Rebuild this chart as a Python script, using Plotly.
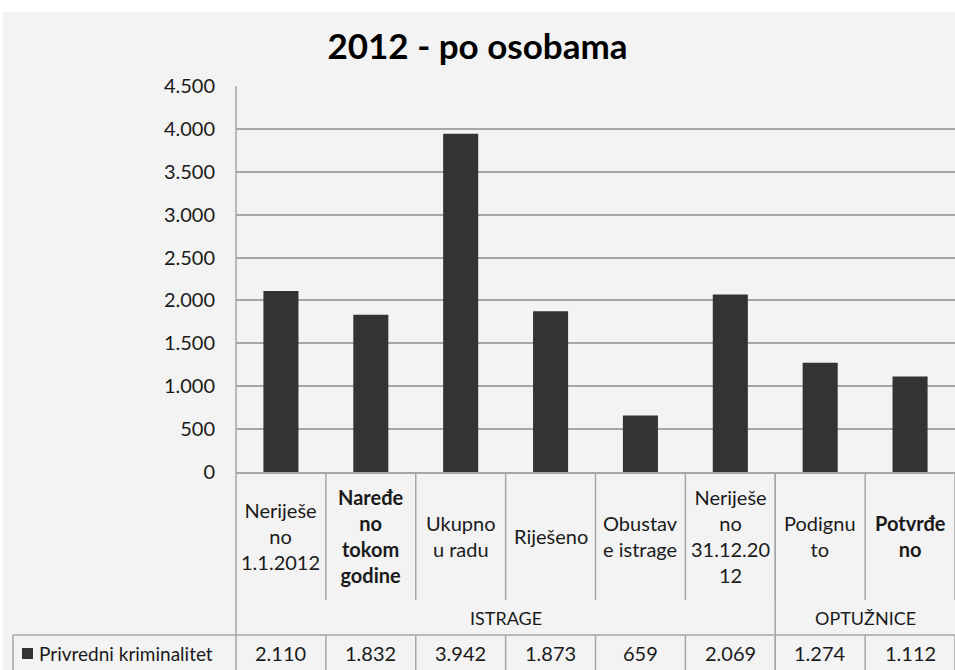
import plotly.graph_objects as go

# ---- data ----
title_text = "2012 - po osobama"
categories = ["Neriješeno 1.1.2012", "Naređeno tokom godine", "Ukupno u radu", "Riješeno",
              "Obustave istrage", "Neriješeno 31.12.2012", "Podignuto", "Potvrđeno"]
cat_labels = ["Neriješe<br>no<br>1.1.2012", "<b>Naređe<br>no<br>tokom<br>godine</b>", "Ukupno<br>u radu",
              "Riješeno", "Obustav<br>e istrage", "Neriješe<br>no<br>31.12.20<br>12", "Podignu<br>to",
              "<b>Potvrđe<br>no</b>"]
values = [2110, 1832, 3942, 1873, 659, 2069, 1274, 1112]
series_name = "Privredni kriminalitet"
groups = ["ISTRAGE", "OPTUŽNICE"]
group_first = [0, 6]
group_last = [5, 7]
y_ticks = [0, 500, 1000, 1500, 2000, 2500, 3000, 3500, 4000, 4500]

# ---- layout constants (pixels) ----
W, H = 955, 670
ML, MR, MT, MB = 236, 0, 86, 198
PW, PH = W - ML - MR, H - MT - MB
BG = "#f3f3f3"
LINE = "#a6a6a6"
TXT = "#1a1a1a"
FONT = "Lato, Carlito, Calibri, sans-serif"


def py(p):  # pixel y -> paper y
    return (H - MB - p) / PH


def px(p):  # pixel x -> paper x
    return (p - ML) / PW


fig = go.Figure()
fig.add_trace(go.Bar(x=categories, y=values, name=series_name,
                     marker=dict(color="#333333", line=dict(width=0))))

shapes = []
# background (white strip at top/left, gray panel)
shapes.append(dict(type="rect", xref="paper", yref="paper", x0=px(3), x1=px(W),
                   y0=py(12), y1=py(H), fillcolor=BG, line=dict(width=0), layer="below"))
# left axis line extending through table
shapes.append(dict(type="line", xref="paper", yref="paper", x0=0, x1=0, y0=1, y1=py(H),
                   line=dict(color=LINE, width=1.5)))
# category separators
n = len(categories)
for i in range(1, n + 1):
    xb = i - 0.5
    shapes.append(dict(type="line", xref="x", yref="paper", x0=xb, x1=xb, y0=0, y1=py(600),
                       line=dict(color=LINE, width=1.5)))
    shapes.append(dict(type="line", xref="x", yref="paper", x0=xb, x1=xb, y0=py(635), y1=py(H),
                       line=dict(color=LINE, width=1.5)))
# group separators (full height)
for gl in group_last[:-1]:
    xb = gl + 0.5
    shapes.append(dict(type="line", xref="x", yref="paper", x0=xb, x1=xb, y0=0, y1=py(H),
                       line=dict(color=LINE, width=1.5)))
# horizontal table line
shapes.append(dict(type="line", xref="paper", yref="paper", x0=px(13), x1=px(W), y0=py(635), y1=py(635),
                   line=dict(color=LINE, width=1.5)))
# left border of legend cell
shapes.append(dict(type="line", xref="paper", yref="paper", x0=px(13), x1=px(13), y0=py(635), y1=py(H),
                   line=dict(color=LINE, width=1.5)))
# legend key square
shapes.append(dict(type="rect", xref="paper", yref="paper", x0=px(22), x1=px(33), y0=py(659), y1=py(648),
                   fillcolor="#333333", line=dict(width=0)))

annotations = []
for c, lab in zip(categories, cat_labels):
    annotations.append(dict(x=c, xref="x", y=py(536), yref="paper", text=lab, showarrow=False,
                            xanchor="center", yanchor="middle", align="center",
                            font=dict(family=FONT, size=20, color=TXT)))
for c, v in zip(categories, values):
    annotations.append(dict(x=c, xref="x", y=py(653), yref="paper",
                            text=f"{v:,}".replace(",", "."), showarrow=False,
                            xanchor="center", yanchor="middle",
                            font=dict(family=FONT, size=20, color=TXT)))
for g, a, b in zip(groups, group_first, group_last):
    annotations.append(dict(x=(a + b) / 2, xref="x", y=py(618), yref="paper", text=g, showarrow=False,
                            xanchor="center", yanchor="middle",
                            font=dict(family=FONT, size=18, color=TXT)))
annotations.append(dict(x=px(37), xref="paper", y=py(653), yref="paper", text=series_name,
                        showarrow=False, xanchor="left", yanchor="middle",
                        font=dict(family=FONT, size=19, color=TXT)))

fig.update_layout(
    width=W, height=H,
    margin=dict(l=ML, r=MR, t=MT, b=MB, pad=0),
    paper_bgcolor="white", plot_bgcolor=BG,
    separators=",.",
    showlegend=False,
    bargap=0.61,
    title=dict(text=f"<b>{title_text}</b>", x=0.5, xref="container", xanchor="center",
               y=1 - 47 / H, yref="container", yanchor="middle",
               font=dict(family=FONT, size=35, color="#000000")),
    xaxis=dict(range=[-0.5, n - 0.5], showticklabels=False, ticks="", showgrid=False,
               showline=True, linecolor=LINE, linewidth=1.5, zeroline=False, fixedrange=True),
    yaxis=dict(range=[0, 4500], tickvals=y_ticks, tickformat=",d", showgrid=True,
               gridcolor=LINE, gridwidth=1.5, zeroline=False, showline=False, ticks="",
               ticklabelstandoff=20, tickfont=dict(family=FONT, size=20, color=TXT)),
    shapes=shapes,
    annotations=annotations,
)

fig.write_html(
    "out.html",
    config={"displayModeBar": False},
    post_script="document.body.style.margin='0';document.body.style.padding='0';"
                "document.body.style.overflow='hidden';",
)
